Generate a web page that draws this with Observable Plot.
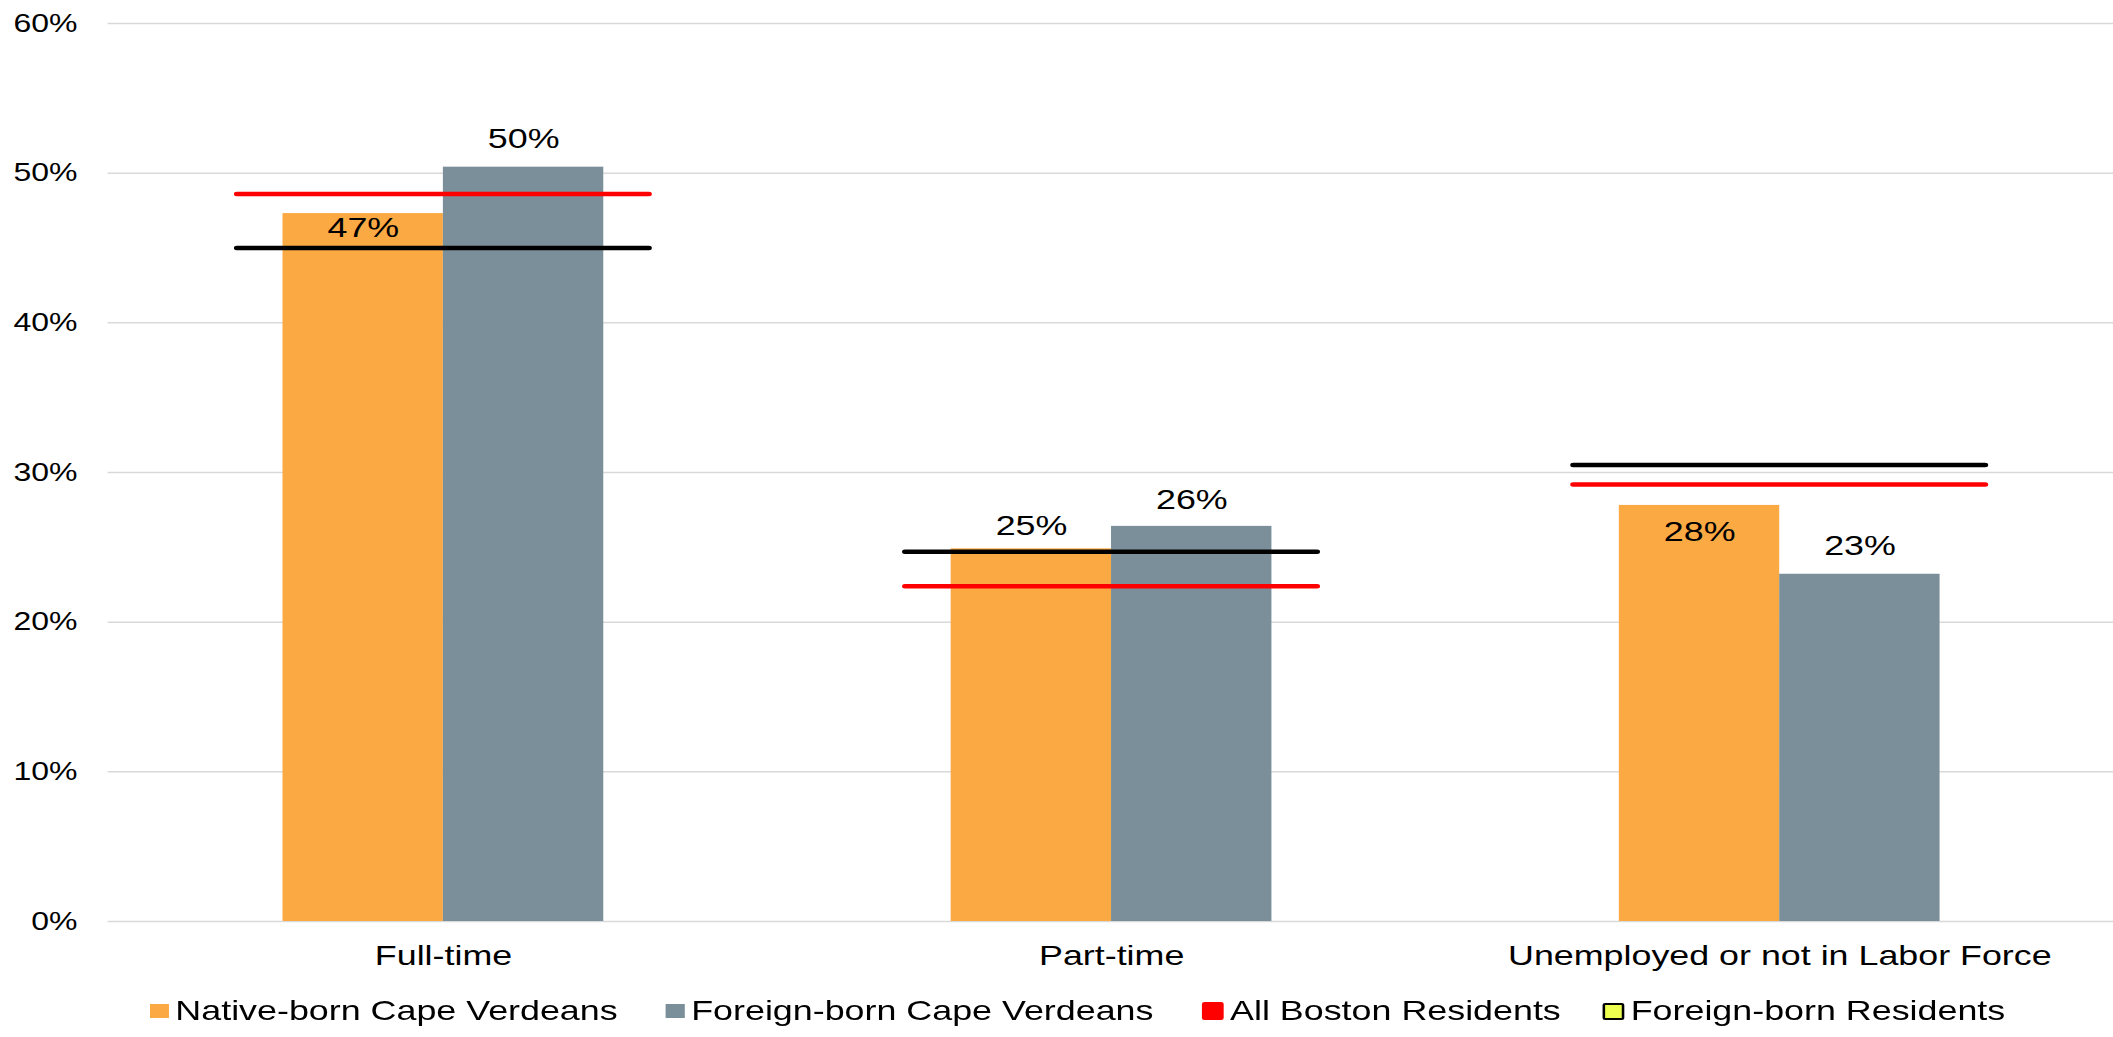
<!DOCTYPE html>
<html>
<head>
<meta charset="utf-8">
<script src="https://cdn.jsdelivr.net/npm/d3@7"></script>
<script src="https://cdn.jsdelivr.net/npm/@observablehq/plot@0.6"></script>
<style>
  html, body { margin: 0; padding: 0; background: #fff; overflow: hidden; }
  #wrap { width: 1651px; transform: scaleX(1.28); transform-origin: 0 0; font-family: "Liberation Sans", Arial, sans-serif; }
  #chart svg { display: block; }
  #legend { position: relative; height: 52px; font-size: 28px; line-height: 32px; color: #000; }
  .item { position: absolute; top: 10px; display: flex; align-items: center; white-space: nowrap; }
  .sw { display: inline-block; margin-right: 5px; box-sizing: border-box; }
</style>
</head>
<body>
<div id="wrap">
  <div id="chart"></div>
  <div id="legend"></div>
</div>
<script>
// ---- data ----
const categories = ["Full-time", "Part-time", "Unemployed or not in Labor Force"];
const seriesNames = ["Native-born Cape Verdeans", "Foreign-born Cape Verdeans", "All Boston Residents", "Foreign-born Residents"];
const nativeBorn = [47.3, 24.9, 27.8];
const foreignBorn = [50.4, 26.4, 23.2];
const allBoston = [48.6, 22.4, 29.2];
const foreignBornResidents = [45.0, 24.7, 30.5];
const yTicks = [0, 10, 20, 30, 40, 50, 60];

// ---- styles ----
const colors = {
  "Native-born Cape Verdeans": "#FBA943",
  "Foreign-born Cape Verdeans": "#7A8F99",
  "All Boston Residents": "#FF0000",
  "Foreign-born Residents": "#000000"
};
// vertical offset (px) of each value label's centre from its bar top
const labelDy = {
  "Native-born Cape Verdeans": [14, -23, 27],
  "Foreign-born Cape Verdeans": [-28, -26, -28]
};
const lineExt = 35.7; // how far reference lines reach beyond the bar pair (px)
const legendLeft = [117, 520, 939, 1252]; // legend item offsets (px)

const barRows = categories.flatMap((c, i) => [
  {category: c, series: seriesNames[0], value: nativeBorn[i], idx: i},
  {category: c, series: seriesNames[1], value: foreignBorn[i], idx: i}
]);
const lineRows = categories.flatMap((c, i) => [
  {category: c, series: seriesNames[2], value: allBoston[i]},
  {category: c, series: seriesNames[3], value: foreignBornResidents[i]}
]);

const W = 1651, H = 985;

function build(bw) {
  const half = bw / 2;
  const shift = (half - lineExt) / 2;
  const labelMarks = barRows.map(r => Plot.text([r], {
    x: "category",
    y: "value",
    text: d => Math.round(d.value) + "%",
    dx: r.series === seriesNames[0] ? -shift : shift,
    dy: labelDy[r.series][r.idx],
    fontSize: 28,
    fill: "#000",
    textAnchor: "middle",
    lineAnchor: "middle"
  }));
  return Plot.plot({
    width: W,
    height: H,
    marginLeft: 84,
    marginRight: 0,
    marginTop: 23,
    marginBottom: 64,
    style: {fontFamily: "'Liberation Sans', Arial, sans-serif", fontSize: "28px", color: "#000", background: "#fff", overflow: "visible"},
    x: {domain: categories, paddingInner: 0.384, paddingOuter: 0.191, tickSize: 0, tickPadding: 24, label: null},
    y: {domain: [0, 60], ticks: yTicks, tickFormat: d => d + "%", tickSize: 0, tickPadding: 24, label: null},
    marks: [
      Plot.ruleY(yTicks, {stroke: "#D9D9D9", strokeWidth: 1.5}),
      Plot.barY(barRows.filter(d => d.series === seriesNames[0]), {
        x: "category", y: "value", fill: colors[seriesNames[0]], insetLeft: lineExt, insetRight: half
      }),
      Plot.barY(barRows.filter(d => d.series === seriesNames[1]), {
        x: "category", y: "value", fill: colors[seriesNames[1]], insetLeft: half, insetRight: lineExt
      }),
      Plot.tickY(lineRows, {
        x: "category", y: "value", stroke: d => colors[d.series], strokeWidth: 4.5, strokeLinecap: "round"
      }),
      ...labelMarks
    ]
  });
}

// first pass to get the band width, then the final chart
const probe = build(320);
const bw = probe.scale("x").bandwidth;
const chart = build(bw);
chart.querySelectorAll('[aria-label^="y-axis"] text').forEach(t => { t.setAttribute("font-size", "25"); t.style.fontSize = "25px"; });
document.getElementById("chart").appendChild(chart);

// ---- legend ----
const swatchStyle = {
  "Native-born Cape Verdeans": "width:15px;height:14px;background:#FBA943;",
  "Foreign-born Cape Verdeans": "width:15px;height:14px;background:#7A8F99;",
  "All Boston Residents": "width:17px;height:18px;background:#FF0000;border-radius:2px;",
  "Foreign-born Residents": "width:17px;height:17px;background:#EFFF4F;border:2.5px solid #000;border-radius:2px;"
};
const legend = d3.select("#legend");
seriesNames.forEach((name, i) => {
  const item = legend.append("div").attr("class", "item").style("left", legendLeft[i] + "px");
  item.append("span").attr("class", "sw").attr("style", swatchStyle[name]);
  item.append("span").text(name);
});
</script>
</body>
</html>
